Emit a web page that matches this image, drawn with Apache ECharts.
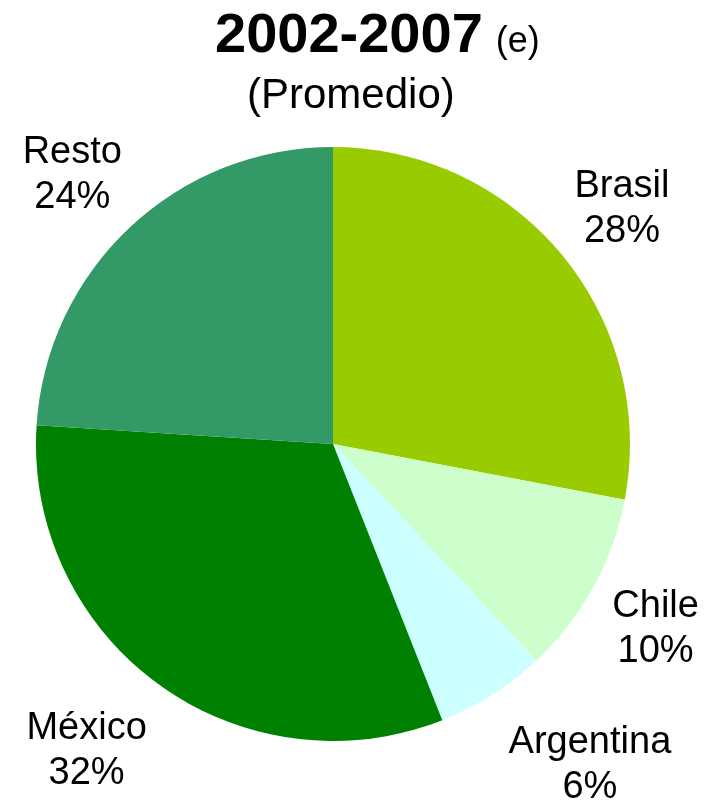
<!DOCTYPE html>
<html>
<head>
<meta charset="utf-8">
<script src="https://cdn.jsdelivr.net/npm/echarts@6/dist/echarts.min.js"></script>
<style>
  html, body { margin: 0; padding: 0; background: #fff; }
  #chart { width: 716px; height: 800px; }
</style>
</head>
<body>
<div id="chart"></div>
<script>
// datos del gráfico (orden horario desde arriba)
const paises = ['Brasil', 'Chile', 'Argentina', 'México', 'Resto']
const participacion = [28, 10, 6, 32, 24]
const colores = ['#99cc00', '#ccffcc', '#ccffff', '#008000', '#339966']

// pequeño ajuste horizontal de algunas etiquetas
const ajusteEtiqueta = { 'Argentina': 56, 'México': -26, 'Chile': -6, 'Resto': -4 }

const fuente = '"Liberation Sans", Arial, sans-serif'

const chart = echarts.init(document.getElementById('chart'))

const datos = paises.map((p, i) => ({
  name: p,
  value: participacion[i],
  itemStyle: { color: colores[i] }
}))

const option = {
  animation: false,
  textStyle: { fontFamily: fuente },
  title: [
    {
      text: '{a|2002-2007} {b|(e)}',
      left: 210,
      top: 4,
      textStyle: {
        rich: {
          a: { fontSize: 56, fontWeight: 'bold', color: '#000', fontFamily: fuente, lineHeight: 56 },
          b: { fontSize: 36, fontWeight: 'normal', color: '#000', fontFamily: fuente, lineHeight: 56, padding: [10, 0, 0, 8] }
        }
      }
    },
    {
      text: '(Promedio)',
      left: 242,
      top: 70,
      textStyle: { fontSize: 42, fontWeight: 'normal', color: '#000', fontFamily: fuente }
    }
  ],
  series: [
    {
      type: 'pie',
      center: [333, 444],
      radius: 297,
      startAngle: 90,
      clockwise: true,
      silent: true,
      label: { show: false },
      labelLine: { show: false },
      data: datos
    },
    {
      // serie invisible solo para ubicar las etiquetas fuera de la torta
      type: 'pie',
      center: [333, 444],
      radius: [335, 409],
      startAngle: 90,
      clockwise: true,
      silent: true,
      itemStyle: { color: 'rgba(0,0,0,0)' },
      label: {
        show: true,
        position: 'inside',
        formatter: '{b}\n{c}%',
        fontSize: 38,
        lineHeight: 45,
        color: '#000',
        fontFamily: fuente
      },
      labelLine: { show: false },
      labelLayout: function (params) {
        const nombre = paises[params.dataIndex]
        return { dx: ajusteEtiqueta[nombre] || 0, dy: 4 }
      },
      data: paises.map((p, i) => ({ name: p, value: participacion[i] }))
    }
  ]
}

chart.setOption(option)
</script>
</body>
</html>
